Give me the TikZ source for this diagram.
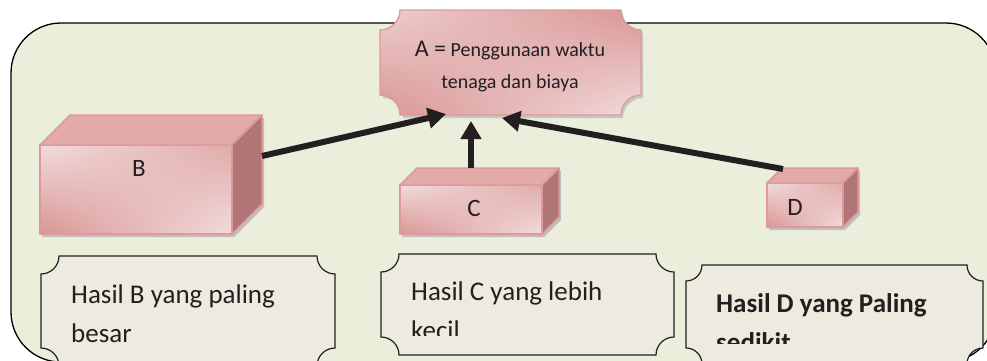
\documentclass[tikz,border=0pt]{standalone}
\usepackage{fontspec}
\setmainfont{Carlito}
\usepackage{tikz}
\usetikzlibrary{arrows.meta,shadings}

\definecolor{framefill}{HTML}{EAEEDA}
\definecolor{pinkdark}{HTML}{D99594}
\definecolor{pinklight}{HTML}{F2DCDC}
\definecolor{pinkborder}{HTML}{DE9A9A}
\definecolor{pinktop}{HTML}{E3AAAA}
\definecolor{pinkside}{HTML}{B07676}
\definecolor{notefill}{HTML}{EDEADF}
\definecolor{inkdark}{HTML}{231F20}

% plaque outline: x1 y1 x2 y2 r
\newcommand{\plaquepath}[5]{({#1+#5},#2) -- ({#3-#5},#2)
  .. controls ({#3-#5},{#2+0.55*#5}) and ({#3-0.55*#5},{#2+#5}) .. (#3,{#2+#5})
  -- (#3,{#4-#5})
  .. controls ({#3-0.55*#5},{#4-#5}) and ({#3-#5},{#4-0.55*#5}) .. ({#3-#5},#4)
  -- ({#1+#5},#4)
  .. controls ({#1+#5},{#4-0.55*#5}) and ({#1+0.55*#5},{#4-#5}) .. (#1,{#4-#5})
  -- (#1,{#2+#5})
  .. controls ({#1+0.55*#5},{#2+#5}) and ({#1+#5},{#2+0.55*#5}) .. ({#1+#5},#2) -- cycle}

% box: x1 y1 x2 y2 depth
\newcommand{\cubebox}[5]{%
  \fill[gray!50] ({#1+2},{#2+3}) -- ({#1+#5+2},{#2-#5+3}) -- ({#3+#5+2},{#2-#5+3})
    -- ({#3+#5+2},{#4-#5+3}) -- ({#3+2},{#4+3}) -- ({#1+2},{#4+3}) -- cycle;
  \shade[upper left=pinklight, upper right=pinkdark!70!pinklight,
    lower left=pinkdark, lower right=pinklight] (#1,#2) rectangle (#3,#4);
  \draw[pinkborder, line width=1.5pt] (#1,#2) rectangle (#3,#4);
  \filldraw[fill=pinktop, draw=pinkborder, line width=1.5pt, line join=round]
    (#1,#2) -- ({#1+#5},{#2-#5}) -- ({#3+#5},{#2-#5}) -- (#3,#2) -- cycle;
  \filldraw[fill=pinkside, draw=pinkborder, line width=1.5pt, line join=round]
    (#3,#2) -- ({#3+#5},{#2-#5}) -- ({#3+#5},{#4-#5}) -- (#3,#4) -- cycle;
}

\begin{document}
\begin{tikzpicture}[x=1pt, y=-1pt,
    flow/.style={line width=6pt, draw=inkdark, -{Triangle[length=18pt,width=20pt]}},
    notetext/.style={font=\fontsize{27}{39}\selectfont, align=left, inner sep=0pt, anchor=base west, text=inkdark},
    cubelabel/.style={font=\fontsize{25}{30}\selectfont, inner sep=0pt, anchor=base, text=inkdark}]

        \useasboundingbox (0,0) rectangle (987,360);
        \clip (0,0) rectangle (987,360);

        %Frame
        \filldraw [fill=framefill, draw=black, line width=1.3pt, rounded corners=50pt]
          (11,23) rectangle (996,362);

        %A
        \fill [gray!45] \plaquepath{383}{13}{643}{118}{20};
        \shade [upper left=pinklight!80!pinkdark, upper right=pinkdark, lower left=pinkdark, lower right=pinklight]
          \plaquepath{380}{10}{641}{115}{20};
        \draw [pinkborder, line width=1.3pt] \plaquepath{380}{10}{641}{115}{20};
        \node (A) [align=center, inner sep=0pt, anchor=base, text=inkdark,
          font=\fontsize{20}{32}\selectfont] at (510,88)
          {{\fontsize{24}{32}\selectfont A =} Penggunaan waktu\\tenaga dan biaya};

        %Boxes
        \cubebox{40}{145}{232}{234}{30}
        \cubebox{400}{185}{542}{234}{17}
        \cubebox{767}{183}{843}{227}{15}
        \node (B) [cubelabel] at (139,176) {B};
        \node (C) [cubelabel] at (474,216) {C};
        \node (D) [cubelabel] at (795,215) {D};

        %Arrows
        \coordinate (Bout) at (262,156);
        \coordinate (Cout) at (471,168);
        \coordinate (Dout) at (783,169);
        \coordinate (AinB) at (446,114);
        \coordinate (AinC) at (471,121);
        \coordinate (AinD) at (502,118);
        \draw [flow] (Bout) -- (AinB);
        \draw [flow] (Cout) -- (AinC);
        \draw [flow] (Dout) -- (AinD);

        %Notes
        \filldraw [fill=notefill, draw=inkdark, line width=1.2pt] \plaquepath{41}{256}{335}{366}{18};
        \filldraw [fill=notefill, draw=inkdark, line width=1.2pt] \plaquepath{381}{254}{674}{355}{18};
        \filldraw [fill=notefill, draw=inkdark, line width=1.2pt] \plaquepath{686}{265}{983}{364}{16};
        \node (noteB) [notetext] at (71,342) {Hasil B yang paling\\besar};
        \begin{scope}
          \clip (381,254) rectangle (674,335);
          \node (noteC) [notetext] at (411,339) {Hasil C yang lebih\\kecil};
        \end{scope}
        \begin{scope}
          \clip (686,265) rectangle (983,343);
          \node (noteD) [notetext, font=\fontsize{27}{39}\selectfont\bfseries] at (716,351) {Hasil D yang Paling\\sedikit};
        \end{scope}
      \end{tikzpicture}
\end{document}
